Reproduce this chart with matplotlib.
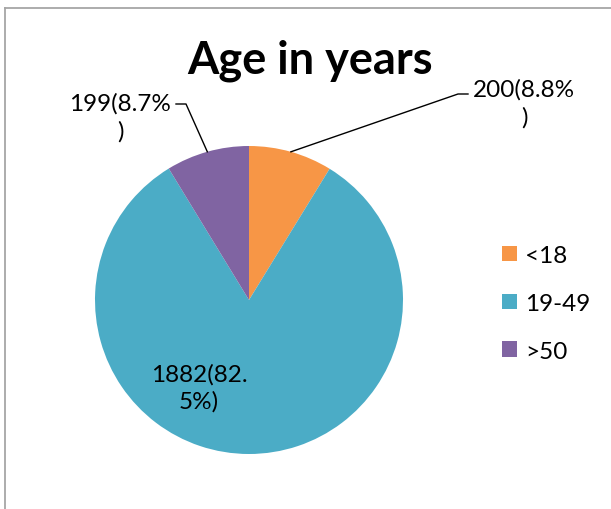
import matplotlib
matplotlib.use("Agg")
import matplotlib.pyplot as plt
from matplotlib.lines import Line2D
import numpy as np

categories = ["<18", "19-49", ">50"]
values = [200, 1882, 199]
pct_labels = ["200(8.8%\n)", "1882(82.\n5%)", "199(8.7%\n)"]
colors = ["#F79646", "#4BACC6", "#8064A2"]
title = "Age in years"

W, H = 611, 510
fig = plt.figure(figsize=(W / 100, H / 100), dpi=100)
ax = fig.add_axes([0, 0, 1, 1])

font = "Lato"
cx, cy, r = 249, H - 301, 154
wedges, _ = ax.pie(values, colors=colors, startangle=90, counterclock=False,
                   center=(cx, cy), radius=r, wedgeprops=dict(linewidth=0),
                   frame=True)
ax.set_xlim(0, W)
ax.set_ylim(0, H)
ax.set_aspect("equal")
ax.axis("off")

def mid_point(w):
    a = np.deg2rad((w.theta1 + w.theta2) / 2)
    return cx + r * np.cos(a), cy + r * np.sin(a)

fs = 17.5
# <18
px, py = mid_point(wedges[0])
ax.plot([px, 458, 468], [py, H - 95, H - 95], color="black", lw=1)
ax.text(524, H - 104, pct_labels[0], ha="center", va="center", fontsize=fs,
        family=font, linespacing=1.35)
# >50
px, py = mid_point(wedges[2])
ax.plot([px, 186, 176], [py, H - 105, H - 105], color="black", lw=1)
ax.text(120, H - 118, pct_labels[2], ha="center", va="center", fontsize=fs,
        family=font, linespacing=1.35)
# 19-49
ax.text(199, H - 388, pct_labels[1], ha="center", va="center", fontsize=fs,
        family=font, linespacing=1.3)

ax.text(310, H - 61, title, ha="center", va="center", fontsize=32.5,
        fontweight="bold", family=font)

leg = ax.legend(wedges, categories, loc="upper left",
                bbox_to_anchor=(490 / W, 1 - 234 / H), frameon=False,
                prop=dict(family=font, size=17.5), handlelength=0.6,
                handleheight=0.6, handletextpad=0.35, labelspacing=1.1,
                borderpad=0)

frame_color = "#A6A6A6"
fig.add_artist(Line2D([5 / W, 5 / W], [0, 1 - 9 / H], color=frame_color,
                      lw=1.3, transform=fig.transFigure))
fig.add_artist(Line2D([5 / W, 1], [1 - 9 / H, 1 - 9 / H], color=frame_color,
                      lw=1.3, transform=fig.transFigure))

fig.savefig("out.png", dpi=100)
